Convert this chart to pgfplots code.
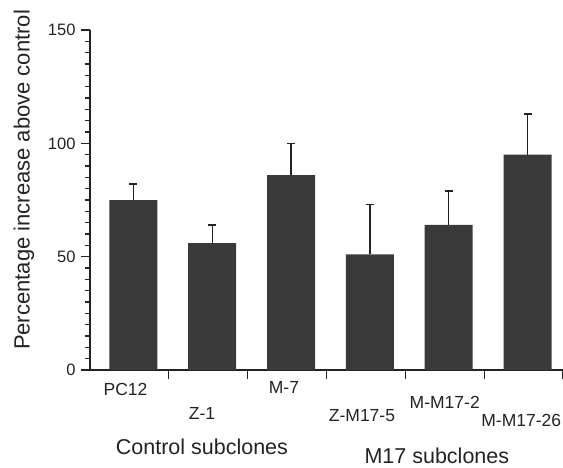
\documentclass[border=0pt]{standalone}
\usepackage{pgfplots}
\pgfplotsset{compat=1.18}
\usepackage{fontspec}
\setmainfont{Liberation Sans}
\definecolor{barc}{RGB}{58,58,58}
\definecolor{inkc}{RGB}{35,35,35}
\begin{document}
\begin{tikzpicture}
\useasboundingbox (0pt,0pt) rectangle (563pt,467pt);
\begin{axis}[
  at={(90pt,97pt)}, anchor=south west,
  scale only axis, width=473pt, height=340pt,
  xmin=-0.55, xmax=5.45, ymin=0, ymax=150,
  axis x line*=bottom, axis y line*=left,
  axis line style={-, line width=1.4pt, color=inkc},
  ytick={0,50,100,150}, minor y tick num=9,
  xtick={0.45,1.45,2.45,3.45,4.45,5.45}, xticklabels={},
  tick align=outside, major tick length=9pt, minor tick length=5pt,
  tick style={line width=1.2pt, color=inkc},
  /pgf/number format/assume math mode=true,
  yticklabel style={font=\fontsize{16.5}{18}\selectfont, text=inkc, xshift=-2pt},
  ylabel={Percentage increase above control},
  ylabel style={at={(axis description cs:-0.1395,0.559)}, anchor=center, font=\fontsize{22}{24}\selectfont, text=inkc},
  clip=false,
  ybar, bar width=48pt,
  error bars/y dir=plus, error bars/y explicit,
  error bars/error mark=-,
  error bars/error bar style={line width=1.3pt, color=inkc},
  error bars/error mark options={rotate=90, mark size=4pt, line width=1.5pt, color=inkc},
]
\addplot[fill=barc, draw=none] coordinates {
  (0,75) +- (0,7)
  (1,56) +- (0,8)
  (2,86) +- (0,14)
  (3,51) +- (0,22)
  (4,64) +- (0,15)
  (5,95) +- (0,18)
};
\begin{scope}[every node/.style={font=\fontsize{17.5}{19}\selectfont, text=inkc}]
\node at (axis cs:-0.1,-8.8) {PC12};
\node at (axis cs:0.87,-19) {Z-1};
\node at (axis cs:1.91,-7.9) {M-7};
\node at (axis cs:2.90,-20.3) {Z-M17-5};
\node at (axis cs:3.95,-14.1) {M-M17-2};
\node at (axis cs:4.92,-22.1) {M-M17-26};
\end{scope}
\node[font=\fontsize{21.5}{23}\selectfont, text=inkc] at (axis cs:0.87,-34) {Control subclones};
\node[font=\fontsize{21.5}{23}\selectfont, text=inkc] at (axis cs:3.85,-37.9) {M17 subclones};
\end{axis}
\end{tikzpicture}
\end{document}
